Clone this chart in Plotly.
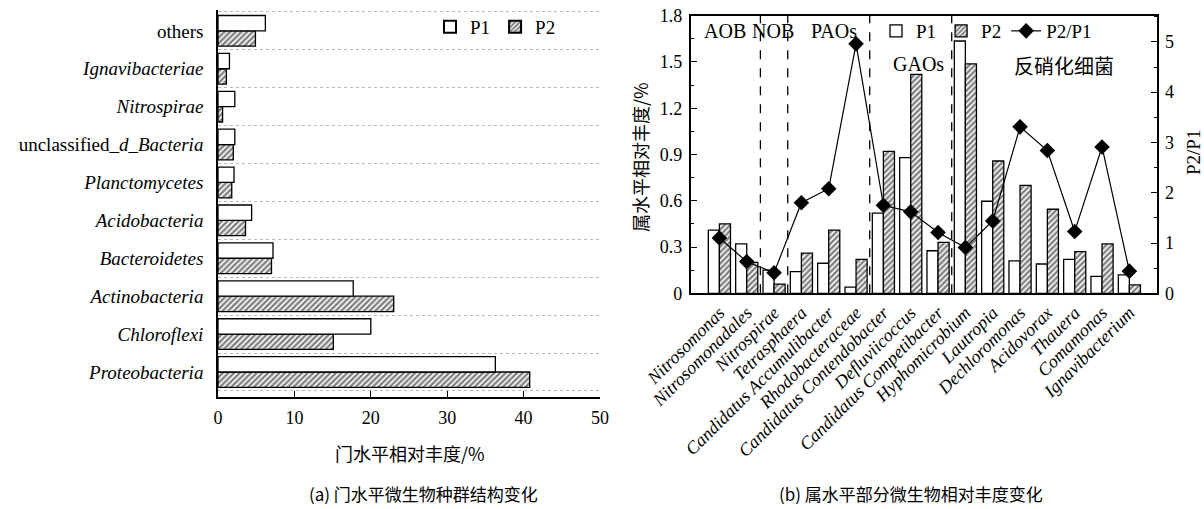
import plotly.graph_objects as go

# ---------------- data ----------------
phyla = ["Proteobacteria", "Chloroflexi", "Actinobacteria", "Bacteroidetes",
         "Acidobacteria", "Planctomycetes", "unclassified_d_Bacteria",
         "Nitrospirae", "Ignavibacteriae", "others"]
phyla_labels = ["<i>Proteobacteria</i>", "<i>Chloroflexi</i>", "<i>Actinobacteria</i>",
                "<i>Bacteroidetes</i>", "<i>Acidobacteria</i>", "<i>Planctomycetes</i>",
                "unclassified_<i>d_Bacteria</i>", "<i>Nitrospirae</i>",
                "<i>Ignavibacteriae</i>", "others"]
phylum_p1 = [36.3, 20.0, 17.7, 7.2, 4.4, 2.1, 2.2, 2.2, 1.5, 6.2]
phylum_p2 = [40.8, 15.1, 23.0, 7.0, 3.6, 1.8, 2.0, 0.6, 1.1, 4.9]

genera = ["Nitrosomonas", "Nitrosomonadales", "Nitrospirae", "Tetrasphaera",
          "Candidatus Accumulibacter", "Rhodobacteraceae", "Candidatus Contendobacter",
          "Defluviicoccus", "Candidatus Competibacter", "Hyphomicrobium", "Lautropia",
          "Dechloromonas", "Acidovorax", "Thauera", "Comamonas", "Ignavibacterium"]
genus_p1 = [0.41, 0.32, 0.15, 0.14, 0.195, 0.04, 0.52, 0.88, 0.276, 1.636,
            0.597, 0.21, 0.19, 0.22, 0.11, 0.12]
genus_p2 = [0.45, 0.20, 0.06, 0.26, 0.41, 0.22, 0.92, 1.42, 0.33, 1.487,
            0.858, 0.70, 0.545, 0.27, 0.32, 0.054]
ratio_p2_p1 = [1.10, 0.63, 0.41, 1.80, 2.08, 4.96, 1.75, 1.62, 1.21, 0.91,
               1.44, 3.31, 2.84, 1.23, 2.91, 0.44]

group_names = ["AOB", "NOB", "PAOs", "GAOs", "反硝化细菌"]
group_sizes = [2, 1, 3, 3, 7]

# ---------------- styling ----------------
W, H = 1204, 509
FONT = "Liberation Serif, Times New Roman, serif"
CJK = "Noto Sans CJK SC, Liberation Serif, serif"
LINE = dict(color="black", width=1.3)
HATCH = dict(shape="/", fgcolor="black", bgcolor="white", size=4, solidity=0.6)


def px_x(v):
    return v / W


def px_y(v):
    return 1 - v / H


def serif(size):
    return dict(family=FONT, size=size, color="black")


fig = go.Figure()

# ---- (a) horizontal bars: P2 added first so that P1 sits on top ----
fig.add_trace(go.Bar(y=phyla_labels, x=phylum_p2, orientation="h", name="P2",
                     marker=dict(color="white", line=LINE, pattern=HATCH),
                     xaxis="x", yaxis="y", legend="legend", legendrank=2))
fig.add_trace(go.Bar(y=phyla_labels, x=phylum_p1, orientation="h", name="P1",
                     marker=dict(color="white", line=LINE),
                     xaxis="x", yaxis="y", legend="legend", legendrank=1))

# ---- (b) vertical bars + ratio line ----
fig.add_trace(go.Bar(x=genera, y=genus_p1, name="P1",
                     marker=dict(color="white", line=LINE),
                     xaxis="x2", yaxis="y2", legend="legend2", legendrank=1))
fig.add_trace(go.Bar(x=genera, y=genus_p2, name="P2",
                     marker=dict(color="white", line=LINE, pattern=HATCH),
                     xaxis="x2", yaxis="y2", legend="legend2", legendrank=2))
fig.add_trace(go.Scatter(x=genera, y=ratio_p2_p1, name="P2/P1", mode="lines+markers",
                         line=dict(color="black", width=1.2),
                         marker=dict(symbol="diamond", size=12, color="black"),
                         xaxis="x2", yaxis="y3", legend="legend2", legendrank=3))

axis_common = dict(showline=True, linecolor="black", linewidth=1.6, zeroline=False,
                   tickcolor="black", automargin=False)

fig.update_layout(
    width=W, height=H,
    margin=dict(l=0, r=0, t=0, b=0, autoexpand=False),
    paper_bgcolor="white", plot_bgcolor="white",
    font=serif(18),
    barmode="group", bargap=0.19, bargroupgap=0,
    xaxis=dict(domain=[px_x(218), px_x(600)], anchor="y", range=[0, 50], dtick=10,
               ticks="inside", ticklen=6, showgrid=False, tickfont=serif(18),
               ticklabelstandoff=4, **axis_common),
    yaxis=dict(domain=[px_y(397), px_y(10)], anchor="x", type="category",
               categoryorder="array", categoryarray=phyla_labels,
               range=[-0.66, 9.55], tickson="boundaries", ticks="",
               showgrid=True, gridcolor="#b8b8b8", griddash="dot", gridwidth=1,
               tickfont=serif(19), ticklabelstandoff=9, **axis_common),
    xaxis2=dict(domain=[px_x(690.7), px_x(1156.7)], anchor="y2", type="category",
                range=[-1.05, 16.0], tickangle=-45, ticks="", showgrid=False,
                tickvals=genera, ticktext=["<i>%s</i>" % g for g in genera],
                tickfont=serif(18), mirror=True, **axis_common),
    yaxis2=dict(domain=[px_y(293.3), px_y(15.7)], anchor="x2", range=[0, 1.8],
                dtick=0.3, ticks="inside", ticklen=6, showgrid=False,
                minor=dict(ticks="inside", ticklen=3, dtick=0.15, tickcolor="black"),
                tickfont=serif(18), ticklabelstandoff=3, **axis_common),
    yaxis3=dict(overlaying="y2", anchor="x2", side="right", range=[0, 5.52],
                dtick=1, ticks="inside", ticklen=6, showgrid=False,
                minor=dict(ticks="inside", ticklen=3, dtick=0.5, tickcolor="black"),
                tickfont=serif(18), ticklabelstandoff=3, **axis_common),
    legend=dict(orientation="h", x=px_x(430), y=px_y(8), xanchor="left", yanchor="top",
                font=serif(19), bgcolor="rgba(0,0,0,0)", itemsizing="constant",
                tracegroupgap=0, itemwidth=30),
    legend2=dict(orientation="h", x=px_x(876), y=px_y(12), xanchor="left", yanchor="top",
                 font=serif(19), bgcolor="rgba(0,0,0,0)", itemwidth=30),
)

# group separators (dashed) derived from group sizes
shapes = []
cum = 0
for size in group_sizes[:-1]:
    cum += size
    shapes.append(dict(type="line", xref="x2", yref="y2 domain", x0=cum - 0.5, x1=cum - 0.5,
                       y0=0, y1=1, line=dict(color="black", width=1.3, dash="dash")))
fig.update_layout(shapes=shapes)

# group labels
label_pos = [(0.2, 31), (1.97, 31), (4.2, 31), (7.27, 64), (12.6, 65)]
annotations = []
for name, (gx, gy) in zip(group_names, label_pos):
    annotations.append(dict(x=gx, y=px_y(gy), xref="x2", yref="paper", text=name,
                            showarrow=False, xanchor="center", yanchor="middle",
                            font=serif(20) if name.isascii() else dict(family=CJK, size=20, color="black")))

# axis titles and captions
common_anno = dict(xref="paper", yref="paper", showarrow=False,
                   xanchor="center", yanchor="middle")
annotations += [
    dict(x=px_x(410), y=px_y(453), text="门水平相对丰度/%",
         font=dict(size=18, family=CJK, color="black"), **common_anno),
    dict(x=px_x(640), y=px_y(157), text="属水平相对丰度/%", textangle=-90,
         font=dict(size=18, family=CJK, color="black"), **common_anno),
    dict(x=px_x(1193), y=px_y(153), text="P2/P1", textangle=-90,
         font=serif(19), **common_anno),
    dict(x=px_x(423), y=px_y(493), text="(a) 门水平微生物种群结构变化",
         font=dict(size=17, family=CJK, color="black"), **common_anno),
    dict(x=px_x(911), y=px_y(493), text="(b) 属水平部分微生物相对丰度变化",
         font=dict(size=17, family=CJK, color="black"), **common_anno),
]
fig.update_layout(annotations=annotations)

fig.write_html("out.html")
